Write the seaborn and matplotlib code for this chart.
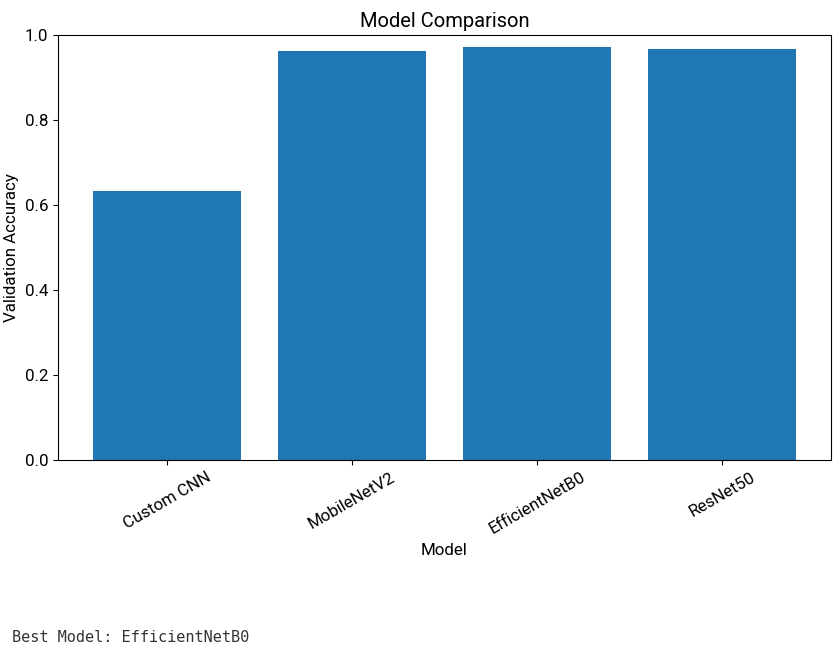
import matplotlib
matplotlib.use("Agg")
import matplotlib.pyplot as plt
import seaborn as sns

# Validation accuracy per model
models = ["Custom CNN", "MobileNetV2", "EfficientNetB0", "ResNet50"]
val_acc = [0.633, 0.963, 0.972, 0.968]
best_model = models[val_acc.index(max(val_acc))]

plt.rcParams['font.family'] = ['Roboto', 'DejaVu Sans']

fig = plt.figure(figsize=(8.37, 6.55), dpi=100)
ax = fig.add_axes([58 / 837, 1 - 460 / 655, 773 / 837, 425 / 655])

sns.barplot(x=models, y=val_acc, color="#1f77b4", saturation=1, width=0.8, ax=ax)
ax.set_ylim(0, 1.0)
ax.set_xlim(-0.59, 3.59)
ax.set_title("Model Comparison", fontsize=14.5)
ax.set_xlabel("Model", fontsize=12.2)
ax.set_ylabel("Validation Accuracy", fontsize=12.2)
ax.tick_params(axis='x', labelrotation=30, labelsize=12.2)
ax.tick_params(axis='y', labelsize=12.2)

fig.text(12 / 837, 1 - 637 / 655, f"Best Model: {best_model}",
         family='DejaVu Sans Mono', fontsize=11, va='center', color='#333333')

fig.savefig("out.png", dpi=100)
